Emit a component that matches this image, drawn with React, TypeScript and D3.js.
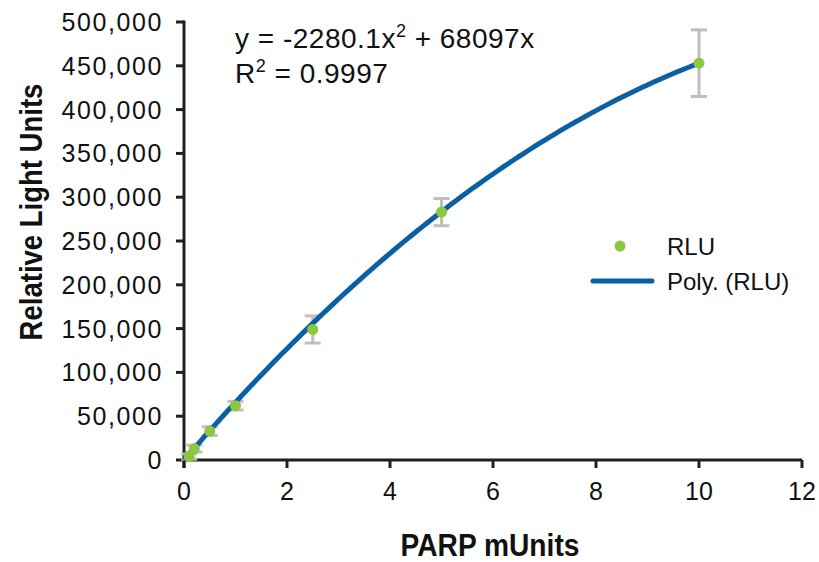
import * as d3 from 'd3';

const doses = [0.1, 0.2, 0.5, 1, 2.5, 5, 10];
const rlu = [4000, 13000, 33000, 62000, 149000, 283000, 453000];
const rluErr = [3000, 4000, 5000, 5000, 15500, 15500, 38000];
const xTicks = [0, 2, 4, 6, 8, 10, 12];
const yTicks = [0, 50000, 100000, 150000, 200000, 250000, 300000, 350000, 400000, 450000, 500000];
const polyA = -2280.1;
const polyB = 68097;

const W = 819;
const H = 562;
const AXIS = '#231f20';
const GREEN = '#8dc63f';
const BLUE = '#0b5fa3';
const GREY = '#bfbfbf';
const FONT = '"Liberation Sans", Arial, sans-serif';

export default function App() {
  const x = d3.scaleLinear().domain([0, 12]).range([184, 802]);
  const y = d3.scaleLinear().domain([0, 500000]).range([460, 22]);
  const fmt = d3.format(',');

  const fitX = d3.range(0, 10.001, 0.1);
  const line = d3
    .line<number>()
    .x(d => x(d))
    .y(d => y(polyA * d * d + polyB * d))
    .curve(d3.curveMonotoneX);

  const points = doses.map((d, i) => ({ d, v: rlu[i], e: rluErr[i] }));

  return (
    <svg width={W} height={H} style={{ position: 'absolute', left: 0, top: 0, background: '#fff' }}>
      {/* axes */}
      <line x1={x(0)} x2={x(12)} y1={y(0)} y2={y(0)} stroke={AXIS} strokeWidth={3} />
      <line x1={x(0)} x2={x(0)} y1={y(0) + 8} y2={y(500000) - 1.5} stroke={AXIS} strokeWidth={3} />
      {yTicks.map(t => (
        <g key={t}>
          <line x1={x(0) - 8} x2={x(0)} y1={y(t)} y2={y(t)} stroke={AXIS} strokeWidth={3} />
          <text
            x={163}
            y={y(t)}
            dy="0.36em"
            textAnchor="end"
            fontFamily={FONT}
            fontSize={25}
            letterSpacing={1.6}
            fill="#111"
          >
            {fmt(t)}
          </text>
        </g>
      ))}
      {xTicks.map(t => (
        <g key={t}>
          <line x1={x(t)} x2={x(t)} y1={y(0)} y2={y(0) + 8} stroke={AXIS} strokeWidth={3} />
          <text x={x(t)} y={500} textAnchor="middle" fontFamily={FONT} fontSize={25} fill="#111">
            {t}
          </text>
        </g>
      ))}

      {/* error bars */}
      {points.map(p => (
        <g key={'e' + p.d} stroke={GREY} strokeWidth={3}>
          <line x1={x(p.d)} x2={x(p.d)} y1={y(p.v - p.e)} y2={y(p.v + p.e)} />
          <line x1={x(p.d) - 8} x2={x(p.d) + 8} y1={y(p.v - p.e)} y2={y(p.v - p.e)} />
          <line x1={x(p.d) - 8} x2={x(p.d) + 8} y1={y(p.v + p.e)} y2={y(p.v + p.e)} />
        </g>
      ))}

      {/* polynomial trend */}
      <path d={line(fitX) || ''} fill="none" stroke={BLUE} strokeWidth={5} />

      {/* points */}
      {points.map(p => (
        <circle key={'p' + p.d} cx={x(p.d)} cy={y(p.v)} r={5.5} fill={GREEN} />
      ))}

      {/* equation */}
      <text x={235} y={48} fontFamily={FONT} fontSize={28} letterSpacing={0.5} fill="#111">
        y = -2280.1x
        <tspan fontSize={18} dy={-11}>2</tspan>
        <tspan dy={11}> + 68097x</tspan>
      </text>
      <text x={235} y={83} fontFamily={FONT} fontSize={28} letterSpacing={0.5} fill="#111">
        R<tspan fontSize={18} dy={-11}>2</tspan>
        <tspan dy={11}> = 0.9997</tspan>
      </text>

      {/* legend */}
      <circle cx={620} cy={246} r={5.5} fill={GREEN} />
      <text x={667} y={255} fontFamily={FONT} fontSize={24} fill="#111">
        RLU
      </text>
      <line x1={593} x2={652} y1={281} y2={281} stroke={BLUE} strokeWidth={5} strokeLinecap="round" />
      <text x={667} y={290} fontFamily={FONT} fontSize={24} fill="#111">
        Poly. (RLU)
      </text>

      {/* axis titles, narrowed to match the condensed bold face */}
      <text
        transform="translate(490,556) scale(0.88,1)"
        textAnchor="middle"
        fontFamily={FONT}
        fontWeight="bold"
        fontSize={32}
        fill="#111"
      >
        PARP mUnits
      </text>
      <text
        transform="translate(42,212) rotate(-90) scale(0.86,1)"
        textAnchor="middle"
        fontFamily={FONT}
        fontWeight="bold"
        fontSize={32}
        fill="#111"
      >
        Relative Light Units
      </text>
    </svg>
  );
}
